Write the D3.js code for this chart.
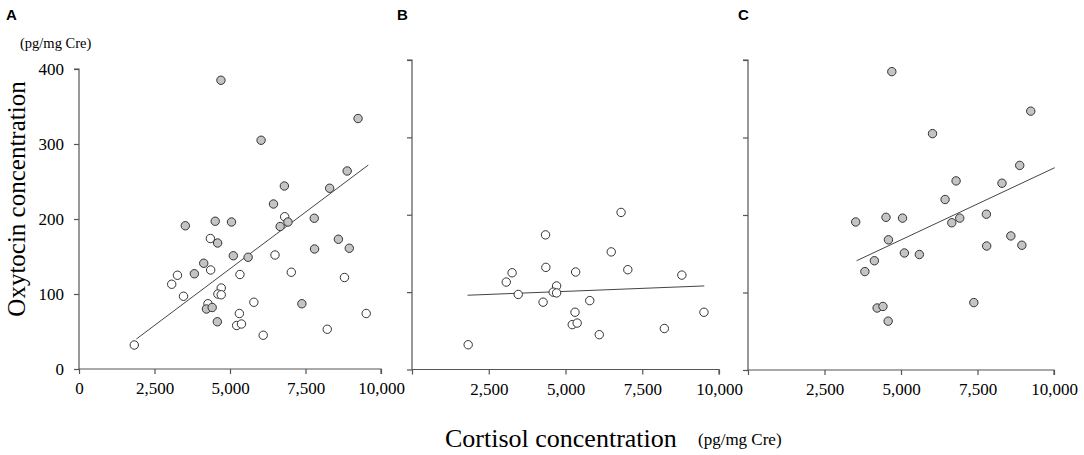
<!DOCTYPE html>
<html><head><meta charset="utf-8">
<script src="https://cdn.jsdelivr.net/npm/d3@7"></script>
<style>
html,body{margin:0;padding:0;background:#fff;}
svg{display:block;}
</style></head>
<body>
<svg id="chart" width="1084" height="455"></svg>
<script>
// ---- data (cortisol pg/mg Cre, oxytocin pg/mg Cre) ----
const groupOpen = [ // panel B (open circles)
  [6810,203],[4350,174],[6490,152],[3260,125],[3070,113],[4360,132],
  [5330,126],[7030,129],[8790,122],[4710,108],[4600,100],[4710,99],
  [3460,97],[4270,87],[5790,89],[5310,74],[9510,74],[5220,58],
  [5380,60],[6100,45],[8220,53],[1830,32]
];
const groupFilled = [ // panel C (filled circles)
  [4700,385],[6030,305],[9240,334],[8880,264],[6800,244],[8300,241],
  [6440,220],[3520,191],[4510,197],[5050,196],[7790,201],[6660,190],
  [6920,196],[4590,168],[5110,151],[5600,149],[4130,141],[3820,127],
  [8590,173],[8950,161],[7800,160],[7380,87],[4220,80],[4410,82],[4580,63]
];
const lineA = [[1900,40],[9580,272]];
const lineB = [[1810,96],[9520,108]];
const lineC = [[3550,141],[10020,261]];
const xTicks = [0,2500,5000,7500,10000];
const yTicks = [0,100,200,300,400];

// ---- layout ----
const svg = d3.select("#chart");
const serif = "'Liberation Serif','Times New Roman',serif";
const sans = "'Liberation Sans',Arial,sans-serif";
const axisColor = "#555";

const panels = [
  {label:"A", lx:6, x0:79, x1:381, y0:369, y1:69, pts:[...groupOpen.map(d=>[...d,0]), ...groupFilled.map(d=>[...d,1])], line:lineA, yLabels:true, xZero:true},
  {label:"B", lx:397, x0:412, x1:719, y0:369.5, y1:60, pts:groupOpen.map(d=>[...d,0]), line:lineB, yLabels:false, xZero:false},
  {label:"C", lx:738, x0:748, x1:1054, y0:370, y1:60, pts:groupFilled.map(d=>[...d,1]), line:lineC, yLabels:false, xZero:false}
];

panels.forEach(p=>{
  const x = d3.scaleLinear().domain([0,10000]).range([p.x0,p.x1]);
  const y = d3.scaleLinear().domain([0,400]).range([p.y0,p.y1]);
  const g = svg.append("g");

  // panel letter
  g.append("text").attr("x",p.lx).attr("y",20).text(p.label)
    .attr("font-family",sans).attr("font-weight","bold").attr("font-size",15).attr("fill","#000");

  // y axis
  const ya = d3.axisLeft(y).tickValues(yTicks).tickSize(5).tickPadding(10)
    .tickFormat(p.yLabels ? d3.format("d") : ()=> "");
  const gy = g.append("g").attr("transform",`translate(${p.x0},0)`).call(ya);
  // x axis
  const xa = d3.axisBottom(x).tickValues(xTicks).tickSize(5).tickPadding(8)
    .tickFormat(d => (d===0 && !p.xZero) ? "" : d3.format(",")(d));
  const gx = g.append("g").attr("transform",`translate(0,${p.y0})`).call(xa);
  [gx,gy].forEach(a=>{
    a.select(".domain").attr("stroke",axisColor).attr("stroke-width",1.2);
    a.selectAll(".tick line").attr("stroke",axisColor).attr("stroke-width",1.2);
    a.selectAll(".tick text").attr("font-family",serif).attr("font-size",17).attr("fill","#000");
  });
  gy.select(".domain").attr("d",`M-5,${p.y1}H0V${p.y0}`);
  gx.select(".domain").attr("d",`M${p.x0},0H${p.x1}V5`);

  // regression line
  g.append("line")
    .attr("x1",x(p.line[0][0])).attr("y1",y(p.line[0][1]))
    .attr("x2",x(p.line[1][0])).attr("y2",y(p.line[1][1]))
    .attr("stroke","#444").attr("stroke-width",1);

  // points
  g.selectAll("circle.pt").data(p.pts).enter().append("circle")
    .attr("class","pt")
    .attr("cx",d=>x(d[0])).attr("cy",d=>y(d[1])).attr("r",4.2)
    .attr("fill",d=>d[2] ? "#c4c4c4" : "#fff")
    .attr("stroke","#333").attr("stroke-width",1);
});

// axis titles
svg.append("text").attr("x",20).attr("y",48).text("(pg/mg Cre)")
  .attr("font-family",serif).attr("font-size",14.5).attr("fill","#000");
svg.append("text").attr("transform","translate(25,199) rotate(-90)")
  .attr("text-anchor","middle").text("Oxytocin concentration")
  .attr("font-family",serif).attr("font-size",25).attr("fill","#000");
svg.append("text").attr("x",445).attr("y",447).text("Cortisol concentration")
  .attr("font-family",serif).attr("font-size",26).attr("fill","#000");
svg.append("text").attr("x",698).attr("y",445).text("(pg/mg Cre)")
  .attr("font-family",serif).attr("font-size",17).attr("fill","#000");
</script>
</body></html>
